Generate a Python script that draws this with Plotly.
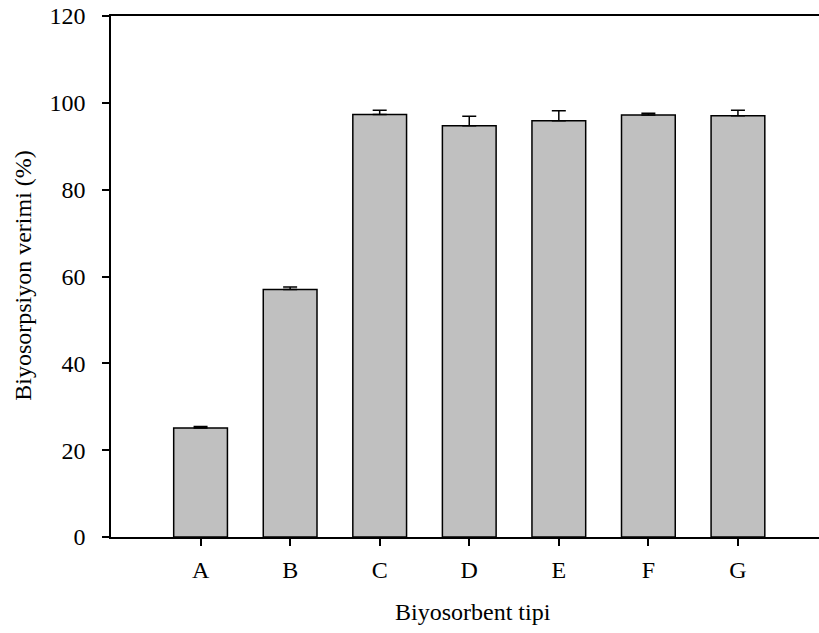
import plotly.graph_objects as go

# Biosorption efficiency per biosorbent type
categories = ["A", "B", "C", "D", "E", "F", "G"]
efficiency = [25.1, 57.0, 97.3, 94.7, 95.9, 97.2, 97.0]
std_error = [0.35, 0.6, 1.0, 2.2, 2.3, 0.4, 1.3]
y_ticks = [0, 20, 40, 60, 80, 100, 120]

font_family = "Liberation Serif, Times New Roman, serif"

fig = go.Figure(
    go.Bar(
        x=categories,
        y=efficiency,
        width=0.6,
        marker=dict(color="#c0c0c0", line=dict(color="black", width=1.5)),
        # upper error bars only
        error_y=dict(type="data", symmetric=False, array=std_error,
                     arrayminus=[0] * len(std_error), visible=True,
                     color="black", thickness=1.5, width=7),
    )
)

fig.update_layout(
    width=819, height=633,
    margin=dict(l=111, r=0, t=16, b=96),
    paper_bgcolor="white", plot_bgcolor="white",
    font=dict(family=font_family, size=24, color="black"),
    showlegend=False,
    xaxis=dict(
        type="category", range=[-1.0, 6.905],
        showline=True, linecolor="black", linewidth=1.5, mirror=True,
        ticks="outside", ticklen=7, tickwidth=1.5, tickcolor="black",
        showgrid=False, zeroline=False,
        ticklabelstandoff=3,
    ),
    yaxis=dict(
        range=[0, 120], tickvals=y_ticks,
        showline=True, linecolor="black", linewidth=1.5, mirror=False,
        ticks="outside", ticklen=7, tickwidth=1.5, tickcolor="black",
        showgrid=False, zeroline=False,
        ticklabelstandoff=12,
    ),
    annotations=[
        dict(text="Biyosorbent tipi", xref="paper", yref="paper",
             x=0.511, y=0, xanchor="center", yanchor="middle",
             yshift=-75, showarrow=False, font=dict(size=24)),
        dict(text="Biyosorpsiyon verimi (%)", xref="paper", yref="paper",
             x=0, y=0.5, xanchor="center", yanchor="middle",
             xshift=-88.7, yshift=1, textangle=-90, showarrow=False,
             font=dict(size=24)),
    ],
)

fig.write_html("out.html")
